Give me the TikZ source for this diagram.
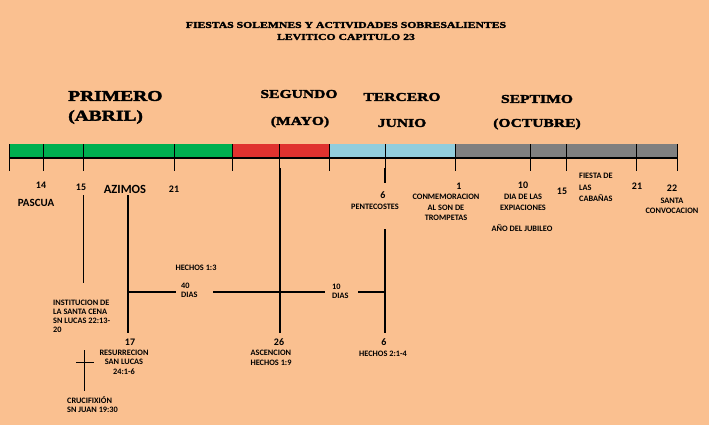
\documentclass[tikz,border=0pt]{standalone}
\usepackage{fontspec}
\setmainfont{Carlito}
\newfontfamily\headfont{Liberation Serif}[FakeStretch=1.3,FakeBold=2.5]
\definecolor{bg}{HTML}{FAC090}
\definecolor{grn}{HTML}{00B050}
\definecolor{rd}{HTML}{E0322F}
\definecolor{cy}{HTML}{92CDDC}
\definecolor{gy}{HTML}{808080}
\tikzset{
  lbl/.style={font=\bfseries\fontsize{8.3}{10.5}\selectfont, align=center, inner sep=0pt},
  lblL/.style={font=\bfseries\fontsize{8.3}{9.2}\selectfont, align=left, inner sep=0pt, anchor=west},
  num/.style={font=\bfseries\fontsize{10}{10}\selectfont, inner sep=0pt},
  head/.style={font=\headfont\bfseries\fontsize{15}{18}\selectfont, inner sep=0pt},
  heads/.style={font=\headfont\bfseries\fontsize{12}{14}\selectfont, inner sep=0pt},
  title/.style={font=\headfont\bfseries\fontsize{9}{12}\selectfont, align=center, inner sep=0pt},
  thick line/.style={line width=1.8pt},
  thin line/.style={line width=1pt},
  grid line/.style={line width=0.9pt}
}
\begin{document}
\begin{tikzpicture}[x=1pt,y=-1pt]
\fill[bg] (0,0) rectangle (709,425);
\useasboundingbox (0,0) rectangle (709,425);

% title
\node[title] (t1) at (346,25) {FIESTAS SOLEMNES Y ACTIVIDADES SOBRESALIENTES};
\node[title] (t2) at (346,37) {LEVITICO CAPITULO 23};

% month headings
\node[head, anchor=west] (h1) at (68,96) {PRIMERO};
\node[head, anchor=west] (h1b) at (68,117) {(ABRIL)};
\node[heads] (h2) at (299,94) {SEGUNDO};
\node[heads] (h2b) at (300,122) {(MAYO)};
\node[heads] (h3) at (402,97) {TERCERO};
\node[heads] (h3b) at (402,123) {JUNIO};
\node[heads] (h4) at (537,99) {SEPTIMO};
\node[heads] (h4b) at (537,124) {(OCTUBRE)};

% bar
\fill[grn] (9,144) rectangle (232,158);
\fill[rd] (232,144) rectangle (329,158);
\fill[cy] (329,144) rectangle (455,158);
\fill[gy] (455,144) rectangle (677,158);
\coordinate (bl) at (9,158);
\coordinate (br) at (677,158);
\draw[line width=1.1pt] (bl) -- (br);
\foreach \x in {9,43,83,174,232,279,329,385,455,530,566,636,677}
  \draw[grid line] (\x,144) -- (\x,171);

% labels under bar
\node[num] (n14) at (41,185) {14};
\node[font=\bfseries\fontsize{11}{12}\selectfont, inner sep=0pt] (pascua) at (36,203) {PASCUA};
\node[num] (n15) at (81,187) {15};
\node[font=\bfseries\fontsize{12.5}{13}\selectfont, inner sep=0pt] (azimos) at (125,189) {AZIMOS};
\node[num] (n21) at (174,189) {21};
\node[num] (n6a) at (383,195) {6};
\node[lbl] (pent) at (375,207) {PENTECOSTES};
\node[num] (n1) at (459,186) {1};
\node[lbl] (conm) at (446,207.5) {CONMEMORACION\\AL SON DE\\TROMPETAS};
\node[num] (n10) at (523,185) {10};
\node[lbl] (dia) at (523,202.5) {DIA DE LAS\\EXPIACIONES};
\node[lbl] (jub) at (522,228) {AÑO DEL JUBILEO};
\node[num] (n15b) at (562,191) {15};
\node[font=\bfseries\fontsize{8.3}{11.5}\selectfont, align=left, inner sep=0pt, anchor=west] (fiesta) at (579,187.5) {FIESTA DE\\LAS\\CABAÑAS};
\node[num] (n21b) at (637,186) {21};
\node[num] (n22) at (672,188) {22};
\node[lbl] (santa) at (672,206) {SANTA\\CONVOCACION};

% lower labels
\node[lbl] (h13) at (196,268) {HECHOS 1:3};
\node[lblL] (d40) at (181,290.5) {40\\DIAS};
\node[lblL] (d10) at (332,291.5) {10\\DIAS};
\node[lblL] (inst) at (53,316.5) {INSTITUCION DE\\LA SANTA CENA\\SN LUCAS 22:13-\\20};
\node[num] (n17) at (130,342) {17};
\node[font=\bfseries\fontsize{8.3}{9.5}\selectfont, align=center, inner sep=0pt] (resu) at (124,362) {RESURRECION\\SAN LUCAS\\24:1-6};
\node[lblL] (cruc) at (67,404.5) {CRUCIFIXIÓN\\SN JUAN 19:30};
\node[num] (n26) at (279,342) {26};
\node[font=\bfseries\fontsize{8.3}{10}\selectfont, align=left, inner sep=0pt] (asc) at (271,358) {ASCENCION\\HECHOS 1:9};
\node[num] (n6b) at (384,342) {6};
\node[lbl] (h21) at (383,354) {HECHOS 2:1-4};

% connector lines
\coordinate (a15t) at (83,195);
\coordinate (a15b) at (83,283);
\draw[thin line] (a15t) -- (a15b);
\coordinate (azt) at (128,195);
\coordinate (azb) at (128,333);
\draw[thick line] (azt) -- (azb);
\coordinate (hA) at (128,292);
\coordinate (hB) at (176,292);
\coordinate (hC) at (213,292);
\coordinate (hD) at (325,292);
\coordinate (hE) at (358,292);
\coordinate (hF) at (385,292);
\draw[thick line] (hA) -- (hB);
\draw[thick line] (hC) -- (hD);
\draw[thick line] (hE) -- (hF);
\coordinate (m26t) at (280,168);
\coordinate (m26b) at (280,333);
\draw[thick line] (m26t) -- (m26b);
\coordinate (p1) at (385,168);
\coordinate (p2) at (385,183);
\coordinate (p3) at (385,229);
\coordinate (p4) at (385,333);
\draw[thick line] (p1) -- (p2);
\draw[thick line] (p3) -- (p4);
% cross
\coordinate (c1) at (84,350);
\coordinate (c2) at (84,391);
\coordinate (c3) at (76,362);
\coordinate (c4) at (94,362);
\draw[thin line] (c1) -- (c2);
\draw[thin line] (c3) -- (c4);
\end{tikzpicture}
\end{document}
